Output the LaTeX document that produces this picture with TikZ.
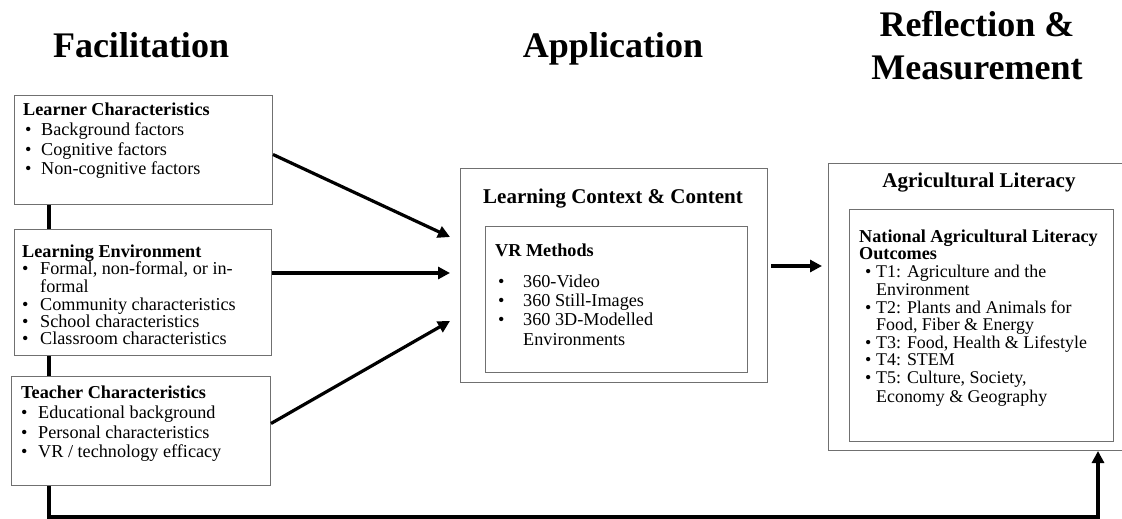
\documentclass[tikz,border=0pt]{standalone}
\usepackage{fontspec}
\setmainfont{Liberation Serif}
\usetikzlibrary{arrows.meta}
\definecolor{boxgray}{HTML}{707070}
\newcommand\bitem[2]{\makebox[#1][l]{\textbullet}#2}
\begin{document}
\begin{tikzpicture}[x=1pt,y=-1pt,
  box/.style={draw=boxgray, line width=1pt, anchor=north west, inner sep=0pt},
  txt/.style={anchor=base west, inner sep=0pt, font=\fontsize{18.2}{20}\selectfont},
  rtxt/.style={anchor=base west, inner sep=0pt, font=\fontsize{17.9}{19}\selectfont},
  btxt/.style={txt, font=\fontsize{18.2}{20}\selectfont\bfseries},
  boxtitle/.style={anchor=base, inner sep=0pt, font=\fontsize{21}{24}\selectfont\bfseries},
  heading/.style={anchor=base, inner sep=0pt, font=\fontsize{36}{40}\selectfont\bfseries},
  link/.style={line width=3.4pt, line cap=butt},
  conn/.style={line width=3.2pt, -{Triangle[length=12pt,width=12pt]}}]
\useasboundingbox (0,0) rectangle (1122,519);
\clip (0,0) rectangle (1122,519);

% column headings
\node[heading] (hfac) at (141,58) {Facilitation};
\node[heading] (happ) at (613,58) {Application};
\node[heading] (href1) at (977,37) {Reflection \&};
\node[heading] (href2) at (977,80) {Measurement};

% facilitation boxes
\node[box, minimum width=258pt, minimum height=109pt] (lc) at (14,95) {};
\node[box, minimum width=257.5pt, minimum height=126pt] (le) at (13.5,229) {};
\node[box, minimum width=259pt, minimum height=109pt] (tc) at (11,376) {};

\node[btxt] (lcT) at (23,115) {Learner Characteristics};
\node[txt] (lc1) at (25,135) {\bitem{16pt}{Background factors}};
\node[txt] (lc2) at (25,155) {\bitem{16pt}{Cognitive factors}};
\node[txt] (lc3) at (25,174) {\bitem{16pt}{Non-cognitive factors}};

\node[btxt] (leT) at (22,257) {Learning Environment};
\node[txt] (le1) at (22,274) {\bitem{18pt}{Formal, non-formal, or in-}};
\node[txt] (le1b) at (40,292) {formal};
\node[txt] (le2) at (22,310) {\bitem{18pt}{Community characteristics}};
\node[txt] (le3) at (22,327) {\bitem{18pt}{School characteristics}};
\node[txt] (le4) at (22,344) {\bitem{18pt}{Classroom characteristics}};

\node[btxt] (tcT) at (21,398) {Teacher Characteristics};
\node[txt] (tc1) at (21,418) {\bitem{17pt}{Educational background}};
\node[txt] (tc2) at (21,438) {\bitem{17pt}{Personal characteristics}};
\node[txt] (tc3) at (21,457) {\bitem{17pt}{VR / technology efficacy}};

% application box
\node[box, minimum width=307pt, minimum height=214pt] (ctx) at (460,168) {};
\node[box, minimum width=262pt, minimum height=146pt] (vr) at (485,226) {};
\node[boxtitle] (ctxT) at (613,203) {Learning Context \& Content};
\node[btxt] (vrT) at (495,256) {VR Methods};
\node[txt] (vr1) at (498,287) {\bitem{25pt}{360-Video}};
\node[txt] (vr2) at (498,306) {\bitem{25pt}{360 Still-Images}};
\node[txt] (vr3) at (498,325) {\bitem{25pt}{360 3D-Modelled}};
\node[txt] (vr3b) at (523,345) {Environments};

% reflection & measurement box
\node[box, minimum width=302pt, minimum height=287pt] (agr) at (828,163) {};
\node[box, minimum width=264pt, minimum height=232pt] (nal) at (849,209) {};
\node[boxtitle] (agrT) at (979,187) {Agricultural Literacy};
\node[btxt] (nalT) at (859,242) {National Agricultural Literacy};
\node[btxt] (nalT2) at (859,259) {Outcomes};
\node[rtxt] (t1) at (865,277) {\bitem{11pt}{T1: Agriculture and the}};
\node[rtxt] (t1b) at (876,295) {Environment};
\node[rtxt] (t2) at (865,313) {\bitem{11pt}{T2: Plants and Animals for}};
\node[rtxt] (t2b) at (876,330) {Food, Fiber \& Energy};
\node[rtxt] (t3) at (865,348) {\bitem{11pt}{T3: Food, Health \& Lifestyle}};
\node[rtxt] (t4) at (865,365) {\bitem{11pt}{T4: STEM}};
\node[rtxt] (t5) at (865,383) {\bitem{11pt}{T5: Culture, Society,}};
\node[rtxt] (t5b) at (876,402) {Economy \& Geography};

% vertical links between facilitation boxes
\draw[link] ([xshift=35pt]lc.south west) -- ([xshift=35pt]lc.south west |- le.north);
\draw[link] ([xshift=35.5pt]le.south west) -- ([xshift=35.5pt]le.south west |- tc.north);

% arrows into the application box
\coordinate (in1) at (450,237);
\coordinate (in2) at (450,273);
\coordinate (in3) at (450,321);
\draw[conn] ([yshift=-4.5pt]lc.east) -- (in1);
\draw[conn] (le.east |- in2) -- (in2);
\draw[conn] ([yshift=7.5pt]tc.east) -- (in3);

% application to reflection
\coordinate (out) at (822,266);
\draw[conn] (ctx.east |- out) ++(3,0) -- (out);

% feedback loop
\coordinate (fb) at (1098,517);
\draw[conn] ([xshift=38pt]tc.south west) |- (fb) -- (fb |- agr.south);
\end{tikzpicture}
\end{document}
